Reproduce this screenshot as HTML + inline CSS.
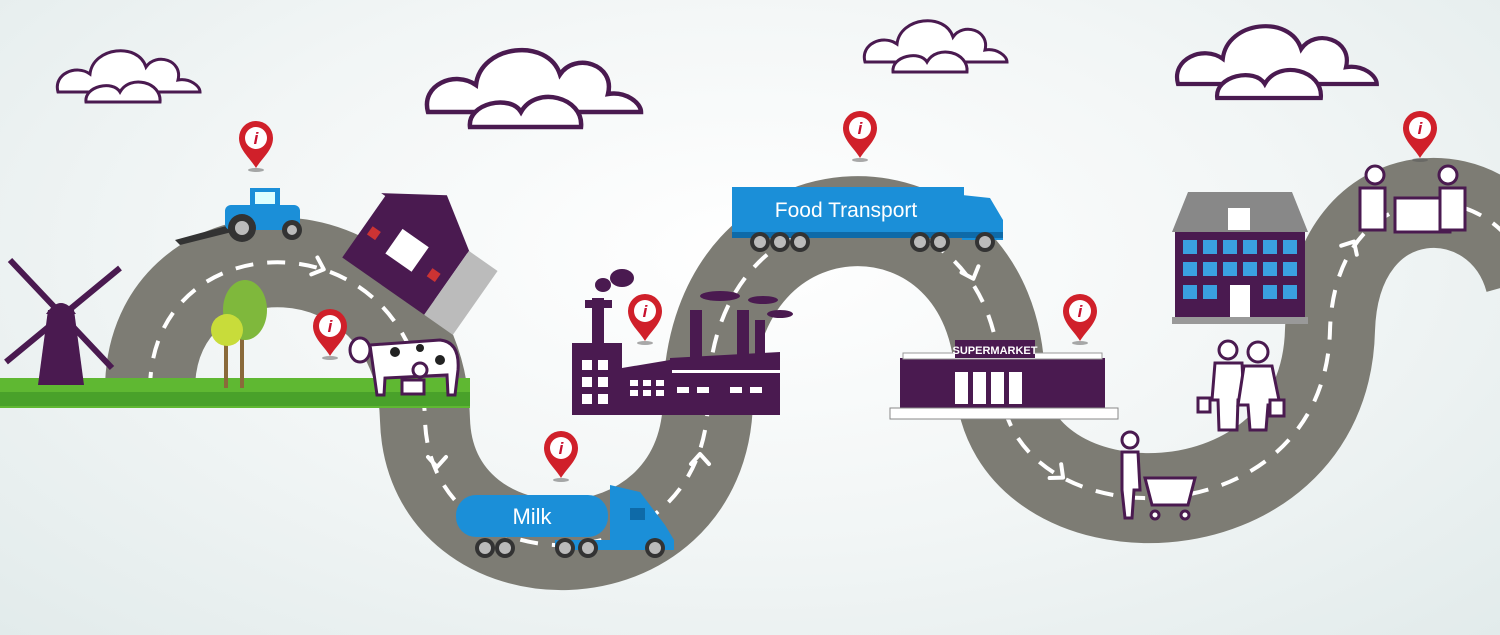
<!DOCTYPE html>
<html><head><meta charset="utf-8"><style>
html,body{margin:0;padding:0;width:1500px;height:635px;overflow:hidden}
body{background:radial-gradient(ellipse at 50% 40%,#ffffff 0%,#f1f5f5 55%,#e2ebeb 100%)}
svg{display:block}
text{font-family:"Liberation Sans",sans-serif}
</style></head><body>
<svg width="1500" height="635" viewBox="0 0 1500 635" xmlns="http://www.w3.org/2000/svg">
<defs>
<g id="pin"><path d="M0 26 C-6 16 -17 8 -17 -4 A17 17 0 0 1 17 -4 C17 8 6 16 0 26Z" fill="#d0202a"/><circle cx="0" cy="-4" r="11" fill="#fff"/><text x="0" y="2" font-size="17" font-weight="bold" font-style="italic" fill="#c8102e" text-anchor="middle" font-family="Liberation Serif,serif">i</text><ellipse cx="0" cy="28" rx="8" ry="2" fill="#555" opacity=".5"/></g>
<g id="cloud"><path d="M0 40 C-5 22 18 12 32 22 C35 -5 80 -10 88 15 C98 0 125 8 120 28 C132 26 142 34 142 40 Z" fill="#fff" stroke="#4a1a50" stroke-width="3"/><path d="M28 50 C26 34 55 28 62 40 C72 22 104 30 102 50 Z" fill="#fff" stroke="#4a1a50" stroke-width="3"/></g>
<g id="wheel"><circle r="10" fill="#333"/><circle r="6" fill="#bbb"/></g>
<path id="chev" d="M-9 -6 L0 4 L9 -6" fill="none" stroke="#fff" stroke-width="4" stroke-linecap="round" stroke-linejoin="round"/>
</defs>

<!-- clouds -->
<use href="#cloud" transform="translate(58,52) scale(1)"/>
<use href="#cloud" transform="translate(428,52) scale(1.5)"/>
<use href="#cloud" transform="translate(865,22) scale(1)"/>
<use href="#cloud" transform="translate(1178,28) scale(1.4)"/>

<!-- road -->
<path d="M150 390 C150 215,420 215,425 420 C430 590,705 590,708 400 C710 165,995 165,1000 380 C1005 545,1325 545,1330 330 C1335 170,1500 170,1530 280" fill="none" stroke="#7d7c74" stroke-width="90"/>
<path d="M150 390 C150 215,420 215,425 420 C430 590,705 590,708 400 C710 165,995 165,1000 380 C1005 545,1325 545,1330 330 C1335 170,1500 170,1530 280" fill="none" stroke="#fff" stroke-width="4" stroke-dasharray="18 14"/>

<!-- arrows -->
<use href="#chev" transform="translate(320,268) rotate(-70)"/>
<use href="#chev" transform="translate(437,463)"/>
<use href="#chev" transform="translate(700,458) rotate(180)"/>
<use href="#chev" transform="translate(972,275) rotate(-20)"/>
<use href="#chev" transform="translate(1060,475) rotate(-50)"/>
<use href="#chev" transform="translate(1352,245) rotate(-150)"/>

<!-- grass -->
<path d="M0 378 L470 378 L470 408 L0 408Z" fill="#5fb832"/>
<g fill="#49a12a"><rect x="0" y="392" width="470" height="14"/></g>

<!-- windmill -->
<g fill="#4a1a50">
<path d="M38 385 L48 310 L74 310 L84 385Z"/>
<path d="M46 314 Q61 292 76 314Z"/>
<g stroke="#4a1a50" stroke-width="6"><line x1="10" y1="260" x2="112" y2="368"/><line x1="120" y1="268" x2="6" y2="362"/></g>
</g>

<!-- trees -->
<rect x="240" y="300" width="4" height="88" fill="#8a6a3a"/>
<ellipse cx="245" cy="310" rx="22" ry="30" fill="#7fb83c"/>
<rect x="224" y="340" width="4" height="48" fill="#8a6a3a"/>
<circle cx="227" cy="330" r="16" fill="#c8dc3a"/>

<!-- tractor -->
<g>
<path d="M175 240 L230 225 L232 232 L180 245Z" fill="#333"/>
<rect x="225" y="205" width="75" height="25" rx="6" fill="#1b8fd8"/>
<rect x="250" y="188" width="30" height="22" fill="#1b8fd8"/><rect x="255" y="192" width="20" height="12" fill="#dff"/>
<circle cx="242" cy="228" r="14" fill="#333"/><circle cx="242" cy="228" r="7" fill="#bbb"/>
<circle cx="292" cy="230" r="10" fill="#333"/><circle cx="292" cy="230" r="5" fill="#bbb"/>
</g>

<!-- barn -->
<g transform="rotate(35 405 255)">
<rect x="355" y="215" width="100" height="78" fill="#4a1a50"/>
<path d="M350 218 L405 182 L460 218Z" fill="#4a1a50"/>
<rect x="388" y="235" width="32" height="30" fill="#fff"/>
<rect x="455" y="215" width="35" height="78" fill="#bbb"/>
<rect x="362" y="250" width="10" height="10" fill="#c33"/><rect x="435" y="250" width="10" height="10" fill="#c33"/>
</g>

<!-- cow -->
<g>
<path d="M370 345 L440 340 Q460 342 458 370 L455 395 L448 395 L447 375 L385 378 L384 395 L377 395 Z" fill="#fff" stroke="#4a1a50" stroke-width="3"/>
<ellipse cx="360" cy="350" rx="10" ry="12" fill="#fff" stroke="#4a1a50" stroke-width="3"/>
<circle cx="395" cy="352" r="5" fill="#222"/><circle cx="420" cy="348" r="4" fill="#222"/><circle cx="440" cy="360" r="5" fill="#222"/>
<circle cx="420" cy="370" r="7" fill="#fff" stroke="#4a1a50" stroke-width="3"/>
<rect x="402" y="380" width="22" height="14" fill="#fff" stroke="#4a1a50" stroke-width="3"/>
</g>

<!-- factory -->
<g fill="#4a1a50">
<rect x="592" y="298" width="12" height="60"/>
<path d="M585 300 L612 300 L612 308 L585 308Z"/>
<ellipse cx="603" cy="285" rx="8" ry="7"/><ellipse cx="622" cy="278" rx="12" ry="9"/>
<rect x="572" y="343" width="50" height="72"/>
<path d="M622 368 L670 360 L670 415 L622 415Z"/>
<path d="M670 358 L780 352 L780 415 L670 415Z"/>
<rect x="690" y="310" width="12" height="50"/><rect x="737" y="310" width="12" height="45"/><rect x="755" y="320" width="10" height="35"/>
<ellipse cx="720" cy="296" rx="20" ry="5"/><ellipse cx="763" cy="300" rx="15" ry="4"/><ellipse cx="780" cy="314" rx="13" ry="4"/>
</g>
<g fill="#fff">
<rect x="582" y="360" width="10" height="10"/><rect x="598" y="360" width="10" height="10"/>
<rect x="582" y="377" width="10" height="10"/><rect x="598" y="377" width="10" height="10"/>
<rect x="582" y="394" width="10" height="10"/><rect x="598" y="394" width="10" height="10"/>
<rect x="630" y="380" width="8" height="6"/><rect x="643" y="380" width="8" height="6"/><rect x="656" y="380" width="8" height="6"/>
<rect x="630" y="390" width="8" height="6"/><rect x="643" y="390" width="8" height="6"/><rect x="656" y="390" width="8" height="6"/>
<rect x="672" y="370" width="108" height="3"/>
<rect x="677" y="387" width="12" height="6"/><rect x="697" y="387" width="12" height="6"/><rect x="730" y="387" width="12" height="6"/><rect x="750" y="387" width="12" height="6"/>
</g>

<!-- milk truck -->
<g>
<rect x="456" y="495" width="152" height="42" rx="20" fill="#1b8fd8"/>
<text x="532" y="524" font-size="22" fill="#fff" text-anchor="middle">Milk</text>
<path d="M610 485 L640 492 L665 525 L674 540 L674 550 L555 550 L555 540 L610 540Z" fill="#1b8fd8"/>
<rect x="630" y="508" width="15" height="12" fill="#0e6aa8"/>
<use href="#wheel" x="485" y="548"/><use href="#wheel" x="505" y="548"/>
<use href="#wheel" x="565" y="548"/><use href="#wheel" x="588" y="548"/><use href="#wheel" x="655" y="548"/>
</g>

<!-- food transport -->
<g>
<rect x="732" y="187" width="232" height="45" fill="#1b8fd8"/>
<text x="846" y="217" font-size="21" fill="#fff" text-anchor="middle">Food Transport</text>
<path d="M962 195 L990 198 L1003 220 L1003 240 L962 240Z" fill="#1b8fd8"/>
<rect x="732" y="232" width="271" height="6" fill="#0e6aa8"/>
<use href="#wheel" x="760" y="242"/><use href="#wheel" x="780" y="242"/><use href="#wheel" x="800" y="242"/>
<use href="#wheel" x="920" y="242"/><use href="#wheel" x="940" y="242"/><use href="#wheel" x="985" y="242"/>
</g>

<!-- supermarket -->
<g>
<rect x="900" y="358" width="205" height="50" fill="#4a1a50"/>
<rect x="903" y="353" width="199" height="6" fill="#fff" stroke="#999"/>
<rect x="955" y="340" width="80" height="18" fill="#4a1a50"/>
<text x="995" y="354" font-size="11" font-weight="bold" fill="#fff" text-anchor="middle">SUPERMARKET</text>
<rect x="955" y="372" width="13" height="32" fill="#fff"/><rect x="973" y="372" width="13" height="32" fill="#fff"/><rect x="991" y="372" width="13" height="32" fill="#fff"/><rect x="1009" y="372" width="13" height="32" fill="#fff"/>
<rect x="890" y="408" width="228" height="11" fill="#fff" stroke="#888"/>
</g>

<!-- house -->
<g>
<path d="M1172 232 L1188 192 L1292 192 L1308 232Z" fill="#888"/>
<rect x="1175" y="232" width="130" height="85" fill="#4a1a50"/>
<rect x="1228" y="208" width="22" height="22" fill="#fff"/>
<g fill="#3aa0e0">
<rect x="1183" y="240" width="14" height="14"/><rect x="1203" y="240" width="14" height="14"/><rect x="1223" y="240" width="14" height="14"/><rect x="1243" y="240" width="14" height="14"/><rect x="1263" y="240" width="14" height="14"/><rect x="1283" y="240" width="14" height="14"/>
<rect x="1183" y="262" width="14" height="14"/><rect x="1203" y="262" width="14" height="14"/><rect x="1223" y="262" width="14" height="14"/><rect x="1243" y="262" width="14" height="14"/><rect x="1263" y="262" width="14" height="14"/><rect x="1283" y="262" width="14" height="14"/>
<rect x="1183" y="285" width="14" height="14"/><rect x="1203" y="285" width="14" height="14"/><rect x="1263" y="285" width="14" height="14"/><rect x="1283" y="285" width="14" height="14"/>
</g>
<rect x="1230" y="285" width="20" height="32" fill="#fff"/>
<rect x="1172" y="317" width="136" height="7" fill="#999"/>
</g>

<!-- people -->
<g fill="#fff" stroke="#4a1a50" stroke-width="3">
<circle cx="1228" cy="350" r="9"/><path d="M1215 363 L1242 363 L1244 400 L1238 400 L1237 430 L1219 430 L1218 400 L1212 400Z"/>
<circle cx="1258" cy="352" r="10"/><path d="M1244 366 L1272 366 L1280 405 L1268 405 L1266 430 L1250 430 L1248 405 L1238 405Z"/>
<rect x="1198" y="398" width="12" height="14"/><rect x="1270" y="400" width="14" height="16"/>
<circle cx="1130" cy="440" r="8"/><path d="M1122 452 L1138 452 L1140 490 L1134 490 L1132 518 L1125 518 L1122 490Z"/>
<path d="M1145 478 L1195 478 L1188 505 L1152 505Z"/><circle cx="1155" cy="515" r="4"/><circle cx="1185" cy="515" r="4"/>
<circle cx="1375" cy="175" r="9"/><circle cx="1448" cy="175" r="9"/>
<path d="M1395 198 L1450 198 L1450 232 L1395 232Z"/>
<path d="M1360 188 L1385 188 L1385 230 L1360 230Z"/><path d="M1440 188 L1465 188 L1465 230 L1440 230Z"/>
</g>

<!-- pins -->
<use href="#pin" x="256" y="142"/>
<use href="#pin" x="330" y="330"/>
<use href="#pin" x="645" y="315"/>
<use href="#pin" x="561" y="452"/>
<use href="#pin" x="860" y="132"/>
<use href="#pin" x="1080" y="315"/>
<use href="#pin" x="1420" y="132"/>
</svg>
</body></html>
